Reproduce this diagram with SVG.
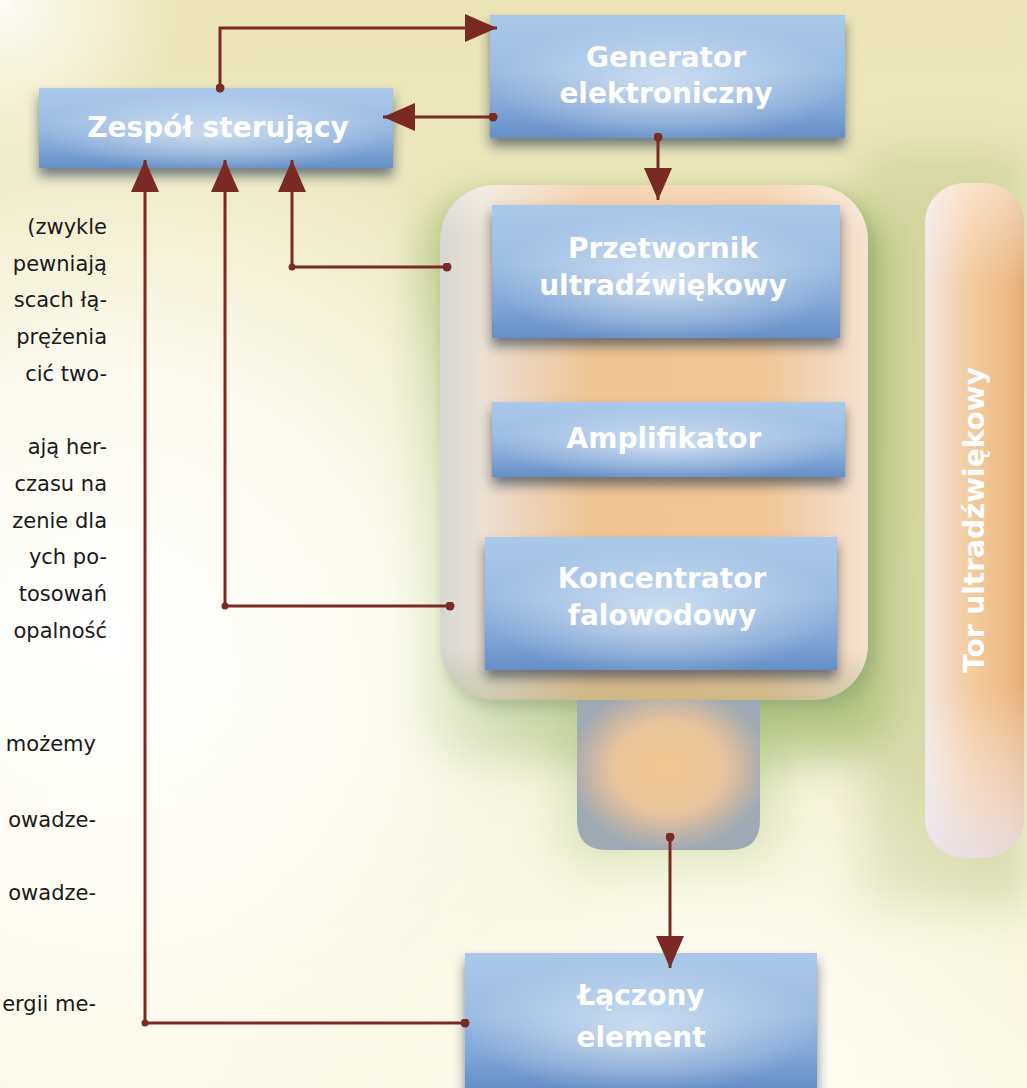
<svg xmlns="http://www.w3.org/2000/svg" width="1027" height="1088" viewBox="0 0 1027 1088">
<defs>
  <style>
    .lbl{font-family:"DejaVu Sans","Verdana",sans-serif;font-weight:bold;font-size:28px;fill:#ffffff;text-anchor:middle}
    .body{font-family:"DejaVu Sans","Verdana",sans-serif;font-size:21px;fill:#1a1a1a;text-anchor:end}
    .con{fill:none;stroke:#7a2a22;stroke-width:3}
    .dot{fill:#7a2a22}
    .box{fill:url(#boxG);filter:url(#sh)}
    .hl{fill:url(#boxHL)}
  </style>
  <linearGradient id="bgTop" x1="0" y1="0" x2="0" y2="1">
    <stop offset="0" stop-color="#ebe5b6"/>
    <stop offset="0.45" stop-color="#eeeac4"/>
    <stop offset="1" stop-color="#fbf9e6"/>
  </linearGradient>
  <radialGradient id="bgWhite" cx="110" cy="640" r="540" gradientUnits="userSpaceOnUse">
    <stop offset="0" stop-color="#ffffff" stop-opacity="1"/>
    <stop offset="0.5" stop-color="#fffffa" stop-opacity="0.8"/>
    <stop offset="1" stop-color="#fffffa" stop-opacity="0"/>
  </radialGradient>
  <radialGradient id="bgCorner" cx="0" cy="0" r="180" gradientUnits="userSpaceOnUse">
    <stop offset="0" stop-color="#ffffff" stop-opacity="0.9"/>
    <stop offset="1" stop-color="#ffffff" stop-opacity="0"/>
  </radialGradient>
  <radialGradient id="bgBottom" cx="720" cy="1070" r="360" gradientUnits="userSpaceOnUse">
    <stop offset="0" stop-color="#fffef4" stop-opacity="1"/>
    <stop offset="1" stop-color="#fffef4" stop-opacity="0"/>
  </radialGradient>
  <linearGradient id="boxG" x1="0" y1="0" x2="0" y2="1">
    <stop offset="0" stop-color="#a9c8ea"/>
    <stop offset="0.45" stop-color="#9cbde4"/>
    <stop offset="0.8" stop-color="#7aa2d4"/>
    <stop offset="1" stop-color="#648fc6"/>
  </linearGradient>
  <radialGradient id="boxHL" cx="0.5" cy="0.55" r="0.5">
    <stop offset="0" stop-color="#d6e3f2" stop-opacity="0.85"/>
    <stop offset="1" stop-color="#d6e3f2" stop-opacity="0"/>
  </radialGradient>
  <linearGradient id="contG" x1="0" y1="0" x2="1" y2="0">
    <stop offset="0" stop-color="#d6d8d4"/>
    <stop offset="0.1" stop-color="#ebe0d4"/>
    <stop offset="0.35" stop-color="#efc392"/>
    <stop offset="0.75" stop-color="#f1c594"/>
    <stop offset="1" stop-color="#f4e2d2"/>
  </linearGradient>
  <linearGradient id="contV" x1="0" y1="0" x2="0" y2="1">
    <stop offset="0" stop-color="#ffffff" stop-opacity="0.35"/>
    <stop offset="0.1" stop-color="#ffffff" stop-opacity="0"/>
    <stop offset="0.9" stop-color="#8fa070" stop-opacity="0"/>
    <stop offset="1" stop-color="#8fa070" stop-opacity="0.35"/>
  </linearGradient>
  <radialGradient id="stubG" cx="0.5" cy="0.45" r="0.55">
    <stop offset="0" stop-color="#f3c58f"/>
    <stop offset="0.55" stop-color="#e9c39a"/>
    <stop offset="1" stop-color="#9fa9b3"/>
  </radialGradient>
  <linearGradient id="torG" x1="0" y1="0" x2="1" y2="0">
    <stop offset="0" stop-color="#efe6e2"/>
    <stop offset="0.45" stop-color="#f3cc9f"/>
    <stop offset="0.85" stop-color="#eeb985"/>
    <stop offset="1" stop-color="#e3ad7a"/>
  </linearGradient>
  <linearGradient id="torV" x1="0" y1="0" x2="0" y2="1">
    <stop offset="0" stop-color="#ffffff" stop-opacity="0.45"/>
    <stop offset="0.15" stop-color="#ffffff" stop-opacity="0"/>
    <stop offset="0.75" stop-color="#ffffff" stop-opacity="0"/>
    <stop offset="1" stop-color="#e6e2f0" stop-opacity="0.8"/>
  </linearGradient>
  <filter id="sh" x="-10%" y="-20%" width="120%" height="160%">
    <feDropShadow dx="0" dy="8" stdDeviation="6" flood-color="#24364d" flood-opacity="0.6"/>
  </filter>
  <filter id="blur25" x="-30%" y="-30%" width="160%" height="160%">
    <feGaussianBlur stdDeviation="22"/>
  </filter>
  <filter id="blur8" x="-30%" y="-30%" width="160%" height="160%">
    <feGaussianBlur stdDeviation="8"/>
  </filter>
  <marker id="ah" viewBox="0 0 32 28" refX="32" refY="14" markerWidth="32" markerHeight="28" markerUnits="userSpaceOnUse" orient="auto">
    <path d="M0,0 L32,14 L0,28 Z" fill="#7a2a22"/>
  </marker>
  <marker id="st" viewBox="0 0 10 10" refX="5" refY="5" markerWidth="9" markerHeight="9" markerUnits="userSpaceOnUse">
    <circle cx="5" cy="5" r="5" fill="#7a2a22"/>
  </marker>
</defs>

<!-- background -->
<rect width="1027" height="1088" fill="url(#bgTop)"/>
<rect x="860" y="150" width="167" height="760" fill="#c6cc90" opacity="0.6" filter="url(#blur25)"/>
<rect x="420" y="200" width="470" height="560" rx="60" fill="#98b35e" opacity="0.65" filter="url(#blur25)"/>
<rect x="560" y="700" width="220" height="170" rx="30" fill="#a8c078" opacity="0.5" filter="url(#blur25)"/>
<rect width="1027" height="1088" fill="url(#bgWhite)"/>
<rect width="1027" height="1088" fill="url(#bgCorner)"/>
<rect width="1027" height="1088" fill="url(#bgBottom)"/>

<!-- body text (clipped at left edge) -->
<g id="text-column">
  <text class="body" x="107" y="234">(zwykle</text>
  <text class="body" x="107" y="271">pewniają</text>
  <text class="body" x="107" y="307">scach łą-</text>
  <text class="body" x="107" y="344">prężenia</text>
  <text class="body" x="107" y="381">cić  two-</text>
  <text class="body" x="107" y="454">ają  her-</text>
  <text class="body" x="107" y="491">czasu na</text>
  <text class="body" x="107" y="528">zenie dla</text>
  <text class="body" x="107" y="564">ych  po-</text>
  <text class="body" x="107" y="601">tosowań</text>
  <text class="body" x="107" y="638">opalność</text>
  <text class="body" x="96" y="751">możemy</text>
  <text class="body" x="96" y="827">owadze-</text>
  <text class="body" x="96" y="900">owadze-</text>
  <text class="body" x="96" y="1011">ergii me-</text>
</g>

<!-- ultrasonic path container -->
<g id="container">
  <rect x="440" y="185" width="428" height="515" rx="55" fill="#7f9a6a" opacity="0.5" filter="url(#blur8)" transform="translate(6,8)"/>
  <rect x="440" y="185" width="428" height="515" rx="55" fill="url(#contG)"/>
  <rect x="440" y="185" width="428" height="515" rx="55" fill="url(#contV)"/>
  <path d="M577,700 V820 Q577,850 607,850 H730 Q760,850 760,820 V700 Z" fill="url(#stubG)"/>
</g>

<g id="tor">
  <rect x="925" y="183" width="99" height="675" rx="40" fill="url(#torG)"/>
  <rect x="925" y="183" width="99" height="675" rx="40" fill="url(#torV)"/>
  <text class="lbl" transform="translate(984,520) rotate(-90)" x="0" y="0">Tor ultradźwiękowy</text>
</g>

<g id="zespol">
  <rect class="box" x="39" y="88" width="354" height="80"/>
  <rect class="hl" x="39" y="88" width="354" height="80"/>
  <text class="lbl" x="218" y="137">Zespół sterujący</text>
</g>

<g id="generator">
  <rect class="box" x="490" y="15" width="355" height="123"/>
  <rect class="hl" x="490" y="15" width="355" height="123"/>
  <text class="lbl" x="666" y="67">Generator</text>
  <text class="lbl" x="666" y="103">elektroniczny</text>
</g>

<g id="przetwornik">
  <rect class="box" x="492" y="205" width="348" height="133"/>
  <rect class="hl" x="492" y="205" width="348" height="133"/>
  <text class="lbl" x="663" y="258">Przetwornik</text>
  <text class="lbl" x="663" y="295">ultradźwiękowy</text>
</g>

<g id="amplifikator">
  <rect class="box" x="492" y="402" width="353" height="75"/>
  <rect class="hl" x="492" y="402" width="353" height="75"/>
  <text class="lbl" x="664" y="448">Amplifikator</text>
</g>

<g id="koncentrator">
  <rect class="box" x="485" y="537" width="352" height="133"/>
  <rect class="hl" x="485" y="537" width="352" height="133"/>
  <text class="lbl" x="662" y="588">Koncentrator</text>
  <text class="lbl" x="662" y="625">falowodowy</text>
</g>

<g id="laczony">
  <rect class="box" x="465" y="953" width="352" height="135"/>
  <rect class="hl" x="465" y="953" width="352" height="135"/>
  <text class="lbl" x="641" y="1005">Łączony</text>
  <text class="lbl" x="641" y="1047">element</text>
</g>

<!-- connectors -->
<g id="connectors">
  <path class="con" d="M220,88 V28 H497" marker-start="url(#st)" marker-end="url(#ah)"/>
  <path class="con" d="M493,117 H383" marker-start="url(#st)" marker-end="url(#ah)"/>
  <path class="con" d="M658,137 V200" marker-start="url(#st)" marker-end="url(#ah)"/>
  <path class="con" d="M670,837 V968" marker-start="url(#st)" marker-end="url(#ah)"/>
  <path class="con" d="M465,1023 H145 V160" marker-start="url(#st)" marker-end="url(#ah)"/>
  <path class="con" d="M450,606 H225 V160" marker-start="url(#st)" marker-end="url(#ah)"/>
  <path class="con" d="M447,267 H292 V160" marker-start="url(#st)" marker-end="url(#ah)"/>
  <circle class="dot" cx="225" cy="606" r="3.5"/>
  <circle class="dot" cx="292" cy="267" r="3.5"/>
  <circle class="dot" cx="145" cy="1023" r="3.5"/>
</g>
</svg>
